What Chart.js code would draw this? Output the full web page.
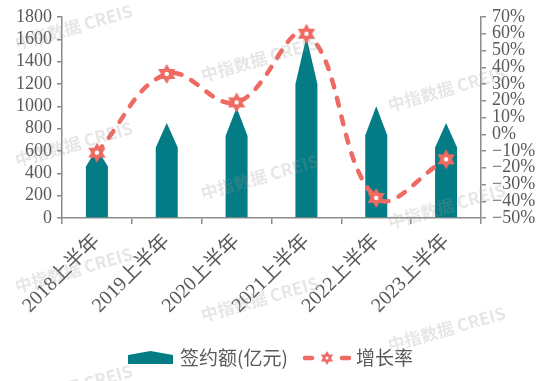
<!DOCTYPE html>
<html>
<head>
<meta charset="utf-8">
<script src="https://cdn.jsdelivr.net/npm/chart.js@4/dist/chart.umd.min.js"></script>
<style>
  html, body { margin: 0; padding: 0; background: #fff; }
  #wrap { width: 550px; height: 381px; position: relative; }
</style>
</head>
<body>
<div id="wrap"><canvas id="chart"></canvas></div>
<script>
// data
const categories = ['2018上半年', '2019上半年', '2020上半年', '2021上半年', '2022上半年', '2023上半年'];
const signedAmount = [620, 850, 990, 1620, 1000, 850];   // 亿元
const growthRate = [-11, 36, 19, 60, -38, -15];          // %
const amountAxis = [0, 1800, 200];   // min, max, step
const rateAxis = [-50, 70, 10];

const barColor = '#047c85';
const lineColor = '#ee6a62';
const textColor = '#595959';
const axisColor = '#8c8c8c';
const serif = '"Liberation Serif", "Noto Sans CJK SC", serif';
const cjk = '"Noto Sans CJK SC", sans-serif';

// six pointed star marker with white centre
function makeStar(r) {
    const size = Math.ceil(r * 2 + 2);
    const c = document.createElement('canvas');
    c.width = size; c.height = size;
    const g = c.getContext('2d');
    const cx = size / 2, cy = size / 2;
    g.fillStyle = lineColor;
    g.beginPath();
    for (let i = 0; i < 12; i++) {
        const a = -Math.PI / 2 + i * Math.PI / 6;
        const rr = i % 2 === 0 ? r : r * 0.58;
        g.lineTo(cx + rr * Math.cos(a), cy + rr * Math.sin(a));
    }
    g.closePath();
    g.fill();
    g.fillStyle = '#fff';
    g.beginPath();
    g.arc(cx, cy, r * 0.22, 0, Math.PI * 2);
    g.fill();
    return c;
}
const starMarker = makeStar(10);
const legendStar = makeStar(7);

// draw bars as pentagons (column with pointed top)
const pentagonBars = {
    id: 'pentagonBars',
    afterDatasetDraw(chart, args) {
        if (args.index !== 0) return;
        const ctx = chart.ctx;
        ctx.save();
        ctx.fillStyle = barColor;
        args.meta.data.forEach(bar => {
            const half = bar.width / 2;
            const shoulder = bar.base - (bar.base - bar.y) * 0.74;
            ctx.beginPath();
            ctx.moveTo(bar.x - half, bar.base);
            ctx.lineTo(bar.x - half, shoulder);
            ctx.lineTo(bar.x, bar.y);
            ctx.lineTo(bar.x + half, shoulder);
            ctx.lineTo(bar.x + half, bar.base);
            ctx.closePath();
            ctx.fill();
        });
        ctx.restore();
    }
};

// legend at the bottom, drawn by hand for the custom symbols
const bottomLegend = {
    id: 'bottomLegend',
    afterDraw(chart) {
        const ctx = chart.ctx;
        const ds = chart.data.datasets;
        const y = 358;
        ctx.save();
        // bar symbol
        ctx.fillStyle = barColor;
        ctx.beginPath();
        ctx.moveTo(128, 364);
        ctx.lineTo(128, 355);
        ctx.lineTo(150.5, 351);
        ctx.lineTo(173, 355);
        ctx.lineTo(173, 364);
        ctx.closePath();
        ctx.fill();
        ctx.font = '19px ' + cjk;
        ctx.fillStyle = textColor;
        ctx.textBaseline = 'middle';
        ctx.fillText(ds[0].label, 180, y);
        // line symbol
        ctx.strokeStyle = lineColor;
        ctx.lineWidth = 4.5;
        ctx.lineCap = 'round';
        ctx.beginPath();
        ctx.moveTo(305, y); ctx.lineTo(312, y);
        ctx.moveTo(342, y); ctx.lineTo(349, y);
        ctx.stroke();
        ctx.drawImage(legendStar, 327 - legendStar.width / 2, y - legendStar.height / 2);
        ctx.fillText(ds[1].label, 356, y);
        ctx.restore();
    }
};

// faint CREIS watermark
const watermark = {
    id: 'watermark',
    afterDraw(chart) {
        const ctx = chart.ctx;
        const spots = [[17, 50], [17, 167], [17, 293], [17, 410],
                       [203, 82], [203, 200], [203, 322],
                       [390, 112], [390, 229], [390, 352]];
        ctx.save();
        ctx.font = 'bold 17px ' + cjk;
        ctx.fillStyle = 'rgba(150,150,150,0.24)';
        spots.forEach(([x, y]) => {
            ctx.save();
            ctx.translate(x, y);
            ctx.rotate(-16 * Math.PI / 180);
            ctx.fillText('中指数据 CREIS', 0, 0);
            ctx.restore();
        });
        ctx.restore();
    }
};

const ctx = document.getElementById('chart').getContext('2d');
new Chart(ctx, {
    type: 'bar',
    data: {
        labels: categories,
        datasets: [
            {
                label: '签约额(亿元)',
                data: signedAmount,
                yAxisID: 'y',
                backgroundColor: 'rgba(0,0,0,0)',
                borderWidth: 0,
                categoryPercentage: 0.9,
                barPercentage: 0.35,
                order: 2
            },
            {
                type: 'line',
                label: '增长率',
                data: growthRate,
                yAxisID: 'y1',
                borderColor: lineColor,
                borderWidth: 4.5,
                borderDash: [8, 11],
                borderCapStyle: 'round',
                tension: 0.4,
                pointStyle: starMarker,
                pointRadius: 10,
                order: 1
            }
        ]
    },
    options: {
        responsive: true,
        maintainAspectRatio: false,
        animation: false,
        events: [],
        layout: { padding: { top: 17, left: 0, right: 0, bottom: 0 } },
        plugins: {
            legend: { display: false },
            tooltip: { enabled: false }
        },
        scales: {
            x: {
                afterFit: s => { s.height = 163; },
                grid: { display: true, drawOnChartArea: false, offset: true, tickLength: 6, color: axisColor, lineWidth: 1.5 },
                border: { color: axisColor, width: 1.5 },
                ticks: {
                    autoSkip: false,
                    minRotation: 45, maxRotation: 45, padding: 6,
                    color: textColor, font: { family: serif, size: 20 }
                }
            },
            y: {
                position: 'left',
                min: amountAxis[0], max: amountAxis[1],
                afterFit: s => { s.width = 62; },
                grid: { display: true, drawOnChartArea: false, tickLength: 5, color: axisColor, lineWidth: 1.5 },
                border: { color: axisColor, width: 1.5 },
                ticks: {
                    autoSkip: false,
                    stepSize: amountAxis[2], padding: 5,
                    color: textColor, font: { family: serif, size: 18 },
                    callback: v => String(v)
                }
            },
            y1: {
                position: 'right',
                min: rateAxis[0], max: rateAxis[1],
                afterFit: s => { s.width = 69; },
                grid: { display: true, drawOnChartArea: false, tickLength: 5, color: axisColor, lineWidth: 1.5 },
                border: { color: axisColor, width: 1.5 },
                ticks: {
                    autoSkip: false,
                    stepSize: rateAxis[2], padding: 6,
                    color: textColor, font: { family: serif, size: 18 },
                    callback: v => (v < 0 ? '\u2212' + Math.abs(v) : v) + '%'
                }
            }
        }
    },
    plugins: [pentagonBars, bottomLegend, watermark]
});
</script>
</body>
</html>
